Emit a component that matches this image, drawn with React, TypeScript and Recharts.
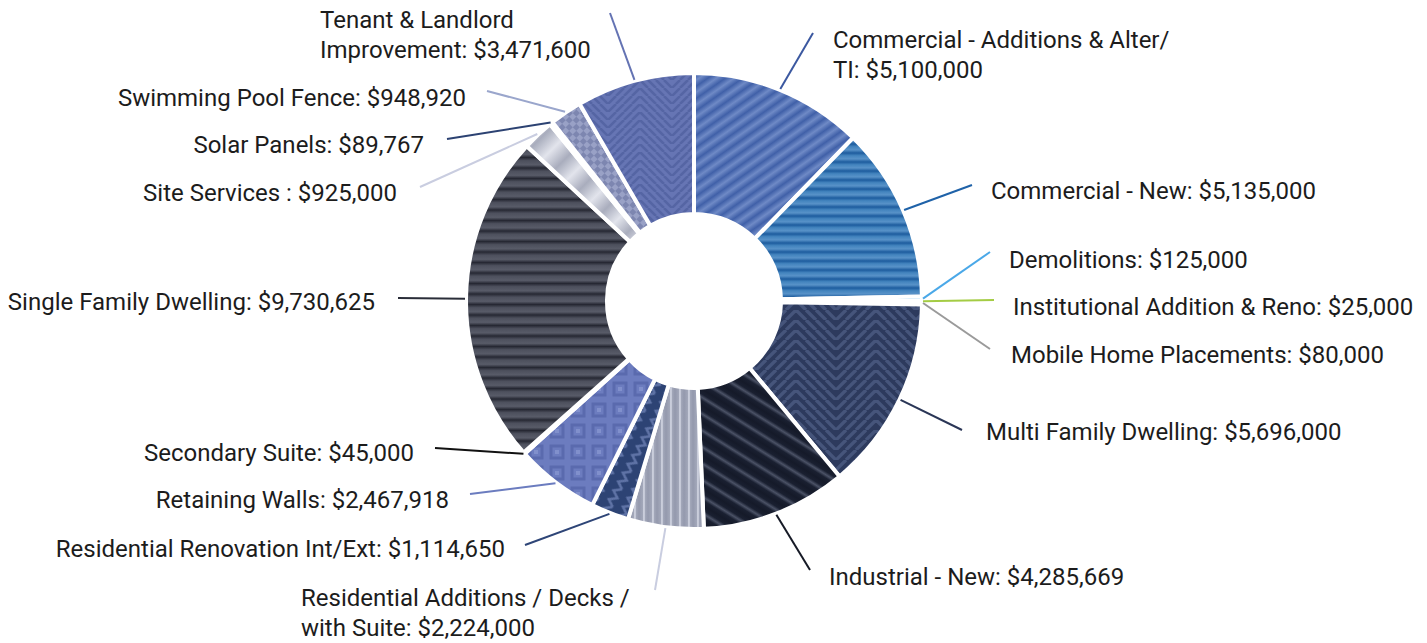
import React from "react";
import { PieChart, Pie, Cell } from "recharts";

// Permit value by category (clockwise from 12 o'clock)
const categories = [
  "Commercial - Additions & Alter/\nTI",
  "Commercial - New",
  "Demolitions",
  "Institutional Addition & Reno",
  "Mobile Home Placements",
  "Multi Family Dwelling",
  "Industrial - New",
  "Residential Additions / Decks /\nwith Suite",
  "Residential Renovation Int/Ext",
  "Retaining Walls",
  "Secondary Suite",
  "Single Family Dwelling",
  "Site Services ",
  "Solar Panels",
  "Swimming Pool Fence",
  "Tenant & Landlord\nImprovement",
];

const amounts = [
  5100000, 5135000, 125000, 25000, 80000, 5696000, 4285669, 2224000,
  1114650, 2467918, 45000, 9730625, 925000, 89767, 948920, 3471600,
];

// fills (pattern / gradient ids) and leader line colours
const fills = [
  "url(#g0)", "url(#g1)", "#5aaee8", "#a5c94a", "#a0a0a0", "url(#p5)",
  "url(#g6)", "url(#g7)", "url(#p8)", "url(#p9)", "#222222", "url(#g11)",
  "url(#g12)", "#2c4272", "url(#p14)", "url(#p15)",
];

const lineColors = [
  "#3b58a0", "#1f62a8", "#4aa8e8", "#a4cc44", "#9a9a9a", "#2a3656",
  "#161a26", "#c9cde0", "#2e4577", "#6b7cbf", "#111111", "#2a2d38",
  "#c9cde0", "#2c4272", "#9aa6cc", "#6473b3",
];

// leader line end, relative to pie centre
const lineEnds = [
  [119, -268], [278, -116], [296, -49], [300, -1], [296, 48], [268, 129],
  [116, 269], [-39, 289], [-169, 244], [-224, 193], [-259, 147], [-296, -3],
  [-274, -114], [-247, -162], [-207, -210], [-84, -288],
];

// text offset from line end: dx, dy, anchor
const textOffsets: [number, number, "start" | "end"][] = [
  [20, 7, "start"], [19, 6, "start"], [19, 8, "start"], [19, 7, "start"],
  [21, 6, "start"], [24, 2, "start"], [19, 7, "start"], [-354, 8, "start"],
  [-20, 4, "end"], [-21, 6, "end"], [-21, 5, "end"], [-23, 4, "end"],
  [-23, 6, "end"], [-23, 6, "end"], [-21, 7, "end"], [-290, 7, "start"],
];

const RAD = Math.PI / 180;

const chartData = categories.map((name, i) => ({ name, value: amounts[i] }));

// big nested chevrons ("^") drawn as 45 degree segments in a short tile
const chevronPath =
  "M0 8 L8 0 M8 8 L16 0 M16 8 L24 0 M24 8 L32 0 L40 8 M40 0 L48 8 M48 0 L56 8 M56 0 L64 8";

// eslint-disable-next-line @typescript-eslint/no-explicit-any
const renderLabel = (props: any) => {
  const { cx, cy, midAngle, outerRadius, index } = props;
  const sx = cx + (outerRadius + 1) * Math.cos(-midAngle * RAD);
  const sy = cy + (outerRadius + 1) * Math.sin(-midAngle * RAD);
  const ex = cx + lineEnds[index][0];
  const ey = cy + lineEnds[index][1];
  const [dx, dy, anchor] = textOffsets[index];
  const lines = `${categories[index]}: $${amounts[index].toLocaleString("en-US")}`.split("\n");
  return (
    <g key={`label-${index}`}>
      <line x1={sx} y1={sy} x2={ex} y2={ey} stroke={lineColors[index]} strokeWidth={2} />
      <text
        x={ex + dx}
        y={ey + dy}
        textAnchor={anchor}
        dominantBaseline="central"
        fill="#1c1c1c"
        style={{ fontFamily: "Roboto, sans-serif", fontSize: 24 }}
      >
        {lines.map((t, k) => (
          <tspan key={k} x={ex + dx} y={ey + dy + k * 30}>
            {t}
          </tspan>
        ))}
      </text>
    </g>
  );
};

const App = () => {
  return (
    <div style={{ position: "absolute", left: 0, top: 0 }}>
      <PieChart width={1427} height={643} margin={{ top: 0, right: 0, bottom: 0, left: 0 }}>
        <defs>
          {/* Commercial - Additions: soft diagonal stripes */}
          <linearGradient id="g0" gradientUnits="userSpaceOnUse" x1="0" y1="0" x2="0" y2="10" spreadMethod="repeat" gradientTransform="rotate(-35)">
            <stop offset="0" stopColor="#4060a8" />
            <stop offset="0.5" stopColor="#6f8ac6" />
            <stop offset="1" stopColor="#4060a8" />
          </linearGradient>
          {/* Commercial - New: horizontal stripes */}
          <linearGradient id="g1" gradientUnits="userSpaceOnUse" x1="0" y1="0" x2="0" y2="9" spreadMethod="repeat">
            <stop offset="0" stopColor="#1d5c9e" />
            <stop offset="0.3" stopColor="#4384be" />
            <stop offset="0.65" stopColor="#5892c8" />
            <stop offset="1" stopColor="#1d5c9e" />
          </linearGradient>
          {/* Industrial: dark diagonal stripes */}
          <linearGradient id="g6" gradientUnits="userSpaceOnUse" x1="0" y1="0" x2="0" y2="14" spreadMethod="repeat" gradientTransform="rotate(32)">
            <stop offset="0" stopColor="#151a29" />
            <stop offset="0.3" stopColor="#1a2031" />
            <stop offset="0.5" stopColor="#4b5266" />
            <stop offset="0.7" stopColor="#1a2031" />
            <stop offset="1" stopColor="#151a29" />
          </linearGradient>
          {/* Residential Additions: vertical stripes */}
          <linearGradient id="g7" gradientUnits="userSpaceOnUse" x1="0" y1="0" x2="9" y2="0" spreadMethod="repeat">
            <stop offset="0" stopColor="#9499ad" />
            <stop offset="0.4" stopColor="#a2a7b9" />
            <stop offset="0.55" stopColor="#dde0ec" />
            <stop offset="0.7" stopColor="#a2a7b9" />
            <stop offset="1" stopColor="#9499ad" />
          </linearGradient>
          {/* Single Family: horizontal stripes */}
          <linearGradient id="g11" gradientUnits="userSpaceOnUse" x1="0" y1="0" x2="0" y2="10.5" spreadMethod="repeat">
            <stop offset="0" stopColor="#262833" />
            <stop offset="0.3" stopColor="#4d505d" />
            <stop offset="0.7" stopColor="#585b68" />
            <stop offset="1" stopColor="#262833" />
          </linearGradient>
          {/* Site Services: light sheen */}
          <linearGradient id="g12" gradientUnits="userSpaceOnUse" x1="0" y1="0" x2="0" y2="16" spreadMethod="reflect" gradientTransform="rotate(-45)">
            <stop offset="0" stopColor="#a9adbd" />
            <stop offset="1" stopColor="#e2e4ec" />
          </linearGradient>
          {/* Multi Family: nested chevrons */}
          <pattern id="p5" patternUnits="userSpaceOnUse" width="64" height="8" patternTransform="translate(836 0) scale(1.25)">
            <rect width="64" height="8" fill="#2d3a5d" />
            <path d={chevronPath} stroke="#46557b" strokeWidth="2.6" fill="none" />
          </pattern>
          {/* Residential Renovation: zigzag */}
          <pattern id="p8" patternUnits="userSpaceOnUse" width="20" height="16" patternTransform="rotate(-62)">
            <rect width="20" height="16" fill="#2d4374" />
            <path d="M0 11 L5 4 L10 11 L15 4 L20 11" stroke="#5f73a6" strokeWidth="2.5" fill="none" />
          </pattern>
          {/* Retaining Walls: squares */}
          <pattern id="p9" patternUnits="userSpaceOnUse" width="21" height="21">
            <rect width="21" height="21" fill="#6c7cbf" />
            <rect x="5" y="5" width="12" height="12" fill="none" stroke="#5a6aae" strokeWidth="3" />
            <rect x="9" y="9" width="4" height="4" fill="#8190cc" />
          </pattern>
          {/* Swimming Pool Fence: checker */}
          <pattern id="p14" patternUnits="userSpaceOnUse" width="10" height="10" patternTransform="rotate(45)">
            <rect width="10" height="10" fill="#7d86b0" />
            <rect width="5" height="5" fill="#99a1c6" />
            <rect x="5" y="5" width="5" height="5" fill="#99a1c6" />
          </pattern>
          {/* Tenant & Landlord: chevrons */}
          <pattern id="p15" patternUnits="userSpaceOnUse" width="64" height="8" patternTransform="translate(608 0)">
            <rect width="64" height="8" fill="#6675b4" />
            <path d={chevronPath} stroke="#5565a4" strokeWidth="2.6" fill="none" />
          </pattern>
        </defs>
        <Pie
          data={chartData}
          dataKey="value"
          nameKey="name"
          cx={694}
          cy={301}
          innerRadius={87}
          outerRadius={228}
          startAngle={90}
          endAngle={-270}
          stroke="#ffffff"
          strokeWidth={4}
          label={renderLabel}
          labelLine={false}
          isAnimationActive={false}
        >
          {chartData.map((entry, index) => (
            <Cell key={`cell-${index}`} fill={fills[index]} />
          ))}
        </Pie>
      </PieChart>
    </div>
  );
};

export default App;
